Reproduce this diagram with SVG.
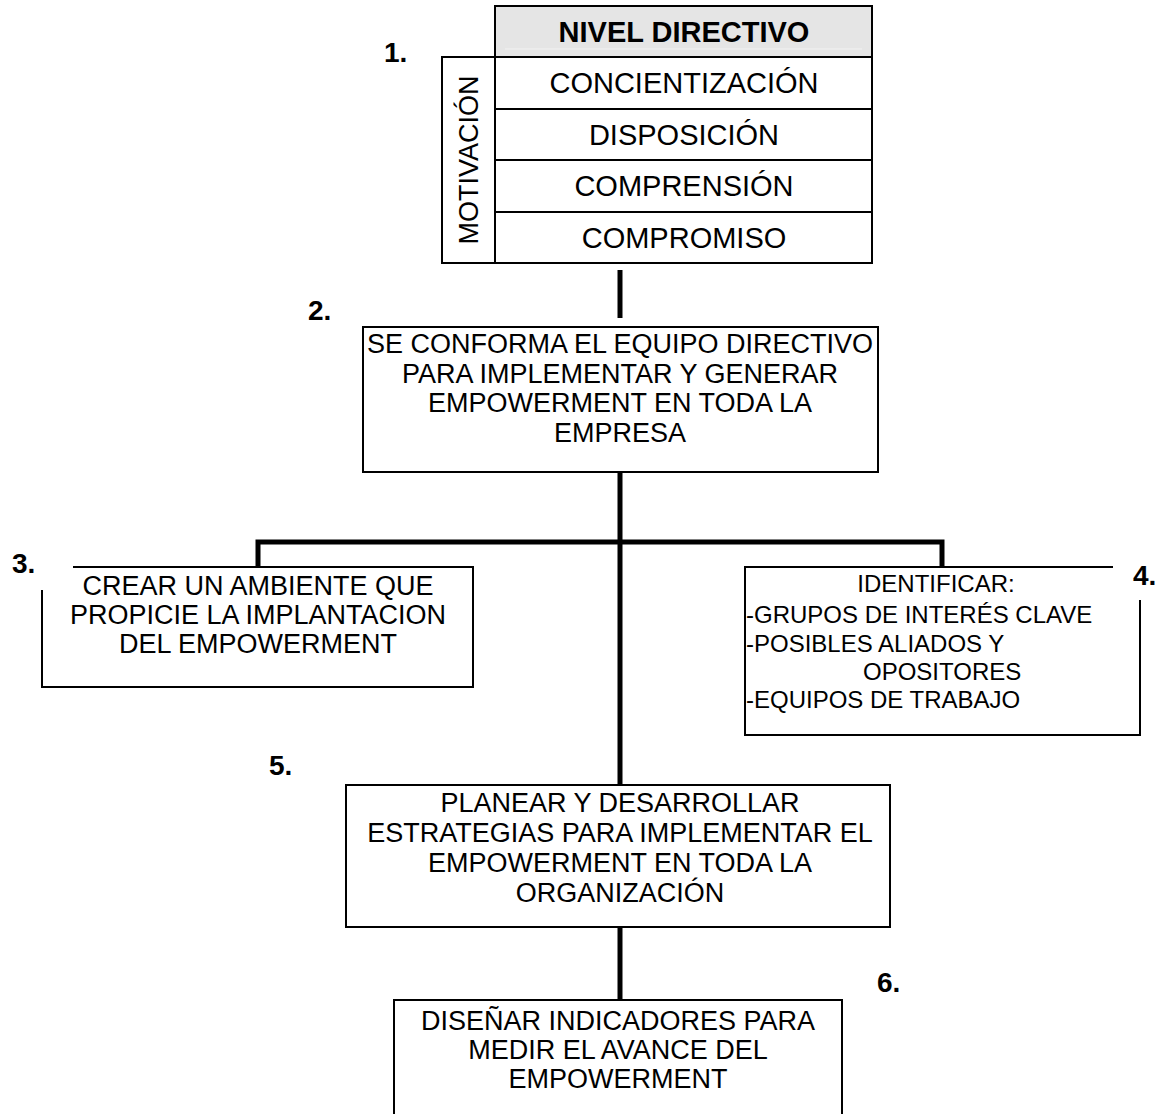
<svg xmlns="http://www.w3.org/2000/svg" width="1163" height="1114" viewBox="0 0 1163 1114">
<style>
.t{font-family:"Liberation Sans",Arial,sans-serif;font-size:27px;fill:#000;text-anchor:middle}
.k{font-family:"Liberation Sans",Arial,sans-serif;font-size:29px;fill:#000;text-anchor:middle}
.s{font-family:"Liberation Sans",Arial,sans-serif;font-size:24px;fill:#000}
.n{font-family:"Liberation Sans",Arial,sans-serif;font-size:28px;font-weight:bold;fill:#000}
.b{fill:#fff;stroke:#000;stroke-width:2}
.o{fill:none;stroke:#000;stroke-width:2}
.c{fill:none;stroke:#000;stroke-width:5}
</style>
<rect width="1163" height="1114" fill="#fff"/>
<g id="connectors">
<line class="c" x1="620" y1="270" x2="620" y2="318"/>
<line class="c" x1="620" y1="472" x2="620" y2="785"/>
<polyline class="c" points="258,567 258,542 942,542 942,567"/>
<line class="c" x1="620" y1="927" x2="620" y2="1000"/>
</g>
<g id="node1">
<text class="n" x="384" y="62">1.</text>
<rect x="495" y="6" width="377" height="51" fill="#e5e5e5" stroke="#000" stroke-width="2"/>
<line x1="505" y1="49" x2="862" y2="49" stroke="#f2f2f2" stroke-width="1"/>
<text class="k" x="684" y="42" font-weight="bold">NIVEL DIRECTIVO</text>
<rect class="b" x="442" y="57" width="53" height="206"/>
<text class="t" transform="translate(478,160) rotate(-90)">MOTIVACIÓN</text>
<rect class="b" x="495" y="57" width="377" height="52"/>
<rect class="b" x="495" y="109" width="377" height="51"/>
<rect class="b" x="495" y="160" width="377" height="52"/>
<rect class="b" x="495" y="212" width="377" height="51"/>
<text class="k" x="684" y="93">CONCIENTIZACIÓN</text>
<text class="k" x="684" y="145">DISPOSICIÓN</text>
<text class="k" x="684" y="196">COMPRENSIÓN</text>
<text class="k" x="684" y="248">COMPROMISO</text>
</g>
<g id="node2">
<text class="n" x="308" y="320">2.</text>
<rect class="b" x="363" y="327" width="515" height="145"/>
<text class="t" x="620" y="353">SE CONFORMA EL EQUIPO DIRECTIVO</text>
<text class="t" x="620" y="383">PARA IMPLEMENTAR Y GENERAR</text>
<text class="t" x="620" y="412">EMPOWERMENT EN TODA LA</text>
<text class="t" x="620" y="442">EMPRESA</text>
</g>
<g id="node3">
<text class="n" x="12" y="573">3.</text>
<polyline class="o" points="73,567 473,567 473,687 42,687 42,590"/>
<text class="t" x="258" y="595">CREAR UN AMBIENTE QUE</text>
<text class="t" x="258" y="624">PROPICIE LA IMPLANTACION</text>
<text class="t" x="258" y="653">DEL EMPOWERMENT</text>
</g>
<g id="node4">
<text class="n" x="1133" y="585">4.</text>
<polyline class="o" points="1113,567 745,567 745,735 1140,735 1140,600"/>
<text class="s" x="936" y="592" text-anchor="middle">IDENTIFICAR:</text>
<text class="s" x="746" y="623">-GRUPOS DE INTERÉS CLAVE</text>
<text class="s" x="746" y="652">-POSIBLES ALIADOS Y</text>
<text class="s" x="863" y="680">OPOSITORES</text>
<text class="s" x="746" y="708">-EQUIPOS DE TRABAJO</text>
</g>
<g id="node5">
<text class="n" x="269" y="775">5.</text>
<rect class="b" x="346" y="785" width="544" height="142"/>
<text class="t" x="620" y="812">PLANEAR Y DESARROLLAR</text>
<text class="t" x="620" y="842">ESTRATEGIAS PARA IMPLEMENTAR EL</text>
<text class="t" x="620" y="872">EMPOWERMENT EN TODA LA</text>
<text class="t" x="620" y="902">ORGANIZACIÓN</text>
</g>
<g id="node6">
<text class="n" x="877" y="992">6.</text>
<rect class="b" x="394" y="1000" width="448" height="130"/>
<text class="t" x="618" y="1030">DISEÑAR INDICADORES PARA</text>
<text class="t" x="618" y="1059">MEDIR EL AVANCE DEL</text>
<text class="t" x="618" y="1088">EMPOWERMENT</text>
</g>
</svg>
